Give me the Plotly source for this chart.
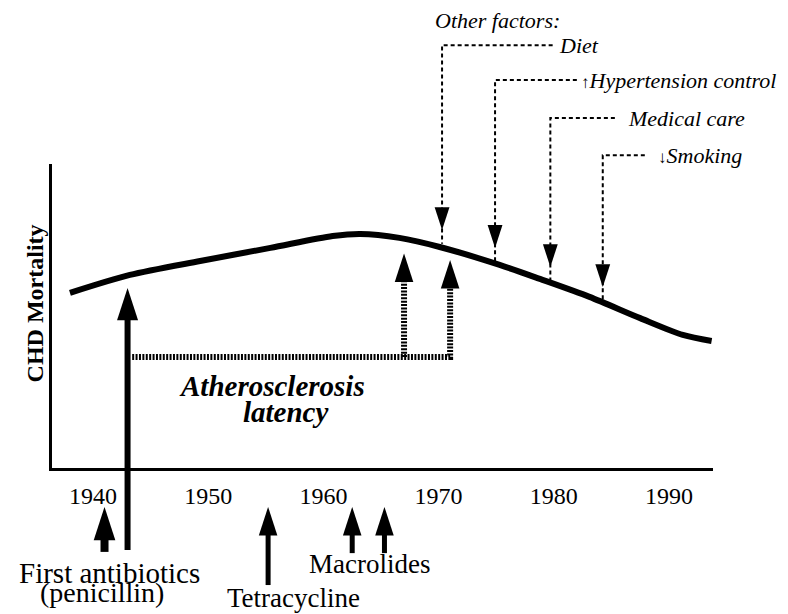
import plotly.graph_objects as go

# ---------------- data ----------------
curve_years = [1938.0, 1943.2, 1949.3, 1955.4, 1960.8, 1963.2, 1966.6, 1970.1,
               1975.3, 1978.8, 1983.1, 1987.5, 1991.2, 1993.7]
curve_mortality = [57.6, 63.5, 68.1, 72.4, 76.3, 77.0, 75.7, 72.7,
                   66.8, 62.2, 56.3, 49.3, 43.8, 41.8]

tick_years = [1940, 1950, 1960, 1970, 1980, 1990]
tick_labels = ["1940", "1950", "1960", "1970", "1980", "1990"]

# penicillin: long arrow from below the axis up to the curve
penicillin_year = 1943.0
penicillin_tail = -27.0
penicillin_tip = 59.2

# short antibiotic arrows below the axis
drug_arrow_years = [1941.0, 1955.2, 1962.5, 1965.3]
drug_arrow_tails = [-27.6, -38.5, -28.0, -28.0]
drug_arrow_tip = -12.8

# atherosclerosis latency (dotted)
latency_start = 1943.4
latency_level = 36.5
latency_arrow_years = [1967.0, 1971.0]
latency_arrow_tips = [70.6, 68.4]

# other factors
factor_labels = ["Diet", "↑Hypertension control", "Medical care", "↓Smoking"]
factor_years = [1970.3, 1974.9, 1979.7, 1984.25]
factor_levels = [139.1, 127.6, 115.1, 102.9]
factor_tips = [78.3, 72.4, 66.1, 59.5]
factor_line_ends = [1979.9, 1982.0, 1985.3, 1987.9]
factor_label_x = [1980.3, 1982.2, 1986.3, 1988.85]

# ---------------- geometry / style ----------------
PAGE_MARGIN = 8          # default body margin of the html page
W, H = 788 - PAGE_MARGIN, 614 - PAGE_MARGIN
PX_YEAR = 11.52          # px per year
PX_UNIT = 3.04           # px per mortality unit
X1940_PX = 93 - PAGE_MARGIN
Y0_PX = 468 - PAGE_MARGIN
XR = [1940 - X1940_PX / PX_YEAR, 1940 + (W - X1940_PX) / PX_YEAR]
YR = [-(H - Y0_PX) / PX_UNIT, Y0_PX / PX_UNIT]
AX_X0, AX_X1 = 1936.44, 1993.82
AX_Y1 = 100.0

FONT = "Liberation Serif, Times New Roman, serif"
BLACK = "black"


def head_len_units(size):
    return 0.951 * size / PX_UNIT


fig = go.Figure()

# axis frame subplot (real axes)
fig.add_trace(go.Scatter(x=[None], y=[None], xaxis="x2", yaxis="y2",
                         showlegend=False, hoverinfo="skip"))

# mortality curve
fig.add_trace(go.Scatter(x=curve_years, y=curve_mortality, mode="lines",
                         line=dict(color=BLACK, width=6, shape="spline", smoothing=0.8),
                         showlegend=False, hoverinfo="skip"))

# penicillin arrow
fig.add_trace(go.Scatter(
    x=[penicillin_year, penicillin_year],
    y=[penicillin_tail, penicillin_tip - 0.6 * head_len_units(34)],
    mode="lines", line=dict(color=BLACK, width=6), showlegend=False, hoverinfo="skip"))
fig.add_trace(go.Scatter(
    x=[penicillin_year], y=[penicillin_tip], mode="markers",
    marker=dict(symbol="arrow", size=34, color=BLACK, line=dict(width=0)),
    showlegend=False, hoverinfo="skip"))

# short drug arrows
drug_sizes = [35, 30, 30, 30]
drug_widths = [8, 5, 5, 5]
for yr, tail, sz, lw in zip(drug_arrow_years, drug_arrow_tails, drug_sizes, drug_widths):
    fig.add_trace(go.Scatter(
        x=[yr, yr], y=[tail, drug_arrow_tip - 0.6 * head_len_units(sz)],
        mode="lines", line=dict(color=BLACK, width=lw), showlegend=False, hoverinfo="skip"))
    fig.add_trace(go.Scatter(
        x=[yr], y=[drug_arrow_tip], mode="markers",
        marker=dict(symbol="arrow", size=sz, color=BLACK, line=dict(width=0)),
        showlegend=False, hoverinfo="skip"))

# latency dotted path
fig.add_trace(go.Scatter(
    x=[latency_start, latency_arrow_years[1], latency_arrow_years[1], None,
       latency_arrow_years[0], latency_arrow_years[0]],
    y=[latency_level, latency_level, latency_arrow_tips[1] - 0.6 * head_len_units(30), None,
       latency_level, latency_arrow_tips[0] - 0.6 * head_len_units(30)],
    mode="lines", line=dict(color=BLACK, width=6, dash="2px,1.4px"),
    showlegend=False, hoverinfo="skip"))
fig.add_trace(go.Scatter(
    x=latency_arrow_years, y=latency_arrow_tips, mode="markers",
    marker=dict(symbol="arrow", size=30, color=BLACK, line=dict(width=0)),
    showlegend=False, hoverinfo="skip"))

# other factors dashed arrows
for yr, lvl, tip, end in zip(factor_years, factor_levels, factor_tips, factor_line_ends):
    fig.add_trace(go.Scatter(
        x=[end, yr, yr], y=[lvl, lvl, tip - 0.6 * head_len_units(24)],
        mode="lines", line=dict(color=BLACK, width=2, dash="4px,3px"),
        showlegend=False, hoverinfo="skip"))
fig.add_trace(go.Scatter(
    x=factor_years, y=factor_tips, mode="markers",
    marker=dict(symbol="arrow", size=24, angle=180, color=BLACK, line=dict(width=0)),
    showlegend=False, hoverinfo="skip"))

annotations = []


def txt(x, y, text, size, xanchor="center", italic=False, bold=False, angle=0):
    t = text
    if bold:
        t = "<b>" + t + "</b>"
    if italic:
        t = "<i>" + t + "</i>"
    annotations.append(dict(x=x, y=y, xref="x", yref="y", text=t, showarrow=False,
                            xanchor=xanchor, yanchor="middle", textangle=angle,
                            font=dict(family=FONT, size=size, color=BLACK)))


for lab, lx, lvl in zip(factor_labels, factor_label_x, factor_levels):
    lab_html = lab.replace("↑", "<span style='font-size:17px'>↑</span>").replace(
        "↓", "<span style='font-size:17px'>↓</span>")
    txt(lx, lvl, lab_html, 22, xanchor="left", italic=True)

txt(1969.5, 147.2, "Other factors:", 22, xanchor="left", italic=True)
txt(1955.5, 27.1, "Atherosclerosis", 29, italic=True, bold=True)
txt(1956.7, 18.4, "latency", 29, italic=True, bold=True)
txt(1941.4, -34.4, "First antibiotics", 29)
txt(1940.8, -41.1, "(penicillin)", 28)
txt(1957.4, -42.6, "Tetracycline", 27)
txt(1963.96, -31.5, "Macrolides", 27)
txt(1934.98, 54.2, "CHD Mortality", 24, bold=True, angle=-90)

fig.update_layout(
    width=W, height=H, margin=dict(l=0, r=0, t=0, b=0),
    paper_bgcolor="white", plot_bgcolor="rgba(0,0,0,0)",
    showlegend=False,
    xaxis=dict(domain=[0, 1], range=XR, visible=False, fixedrange=True),
    yaxis=dict(domain=[0, 1], range=YR, visible=False, fixedrange=True),
    xaxis2=dict(domain=[(AX_X0 - XR[0]) * PX_YEAR / W, (AX_X1 - XR[0]) * PX_YEAR / W],
                range=[AX_X0, AX_X1], anchor="y2", showline=True, linecolor=BLACK,
                linewidth=2.5, showgrid=False, zeroline=False, ticks="",
                tickvals=tick_years, ticktext=tick_labels, ticklabelstandoff=4,
                tickfont=dict(family=FONT, size=24, color=BLACK), fixedrange=True),
    yaxis2=dict(domain=[(0 - YR[0]) * PX_UNIT / H, (AX_Y1 - YR[0]) * PX_UNIT / H],
                range=[0, AX_Y1], anchor="x2", showline=True, linecolor=BLACK,
                linewidth=2.5, showgrid=False, zeroline=False, showticklabels=False,
                ticks="", fixedrange=True),
    annotations=annotations,
)

fig.write_html("out.html")
